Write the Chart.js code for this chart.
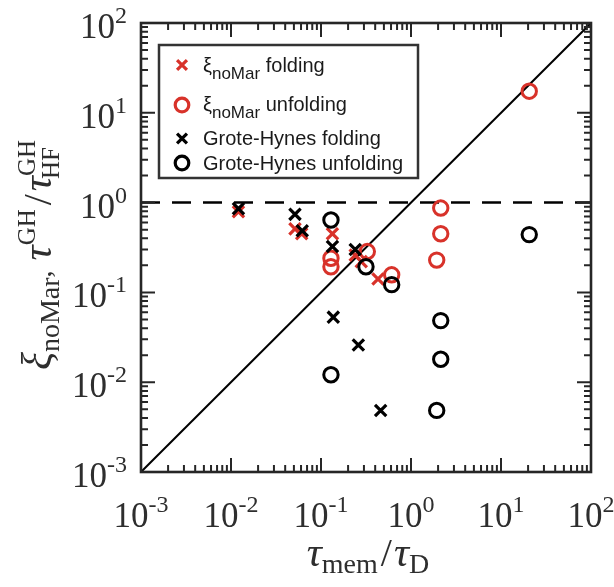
<!DOCTYPE html>
<html>
<head>
<meta charset="utf-8">
<script src="https://cdn.jsdelivr.net/npm/chart.js@4.4.1/dist/chart.umd.min.js"></script>
<style>
  html, body { margin: 0; padding: 0; background: #fff; }
  #wrap { width: 614px; height: 587px; }
</style>
</head>
<body>
<div id="wrap"><canvas id="c" width="614" height="587"></canvas></div>
<script>
// tau_mem / tau_D (x) and the corresponding ratios (y) for each series
const xiFoldX   = [0.0121, 0.0514, 0.061, 0.134, 0.24, 0.28, 0.43];
const xiFoldY   = [0.79, 0.51, 0.45, 0.45, 0.26, 0.22, 0.141];
const xiUnfoldX = [0.129, 0.129, 0.327, 0.61, 2.14, 2.14, 1.93, 20.6];
const xiUnfoldY = [0.24, 0.193, 0.285, 0.157, 0.87, 0.45, 0.229, 17.4];
const ghFoldX   = [0.0121, 0.0514, 0.0619, 0.134, 0.24, 0.137, 0.26, 0.46];
const ghFoldY   = [0.857, 0.74, 0.485, 0.324, 0.30, 0.053, 0.026, 0.00485];
const ghUnfoldX = [0.129, 0.316, 0.61, 0.129, 2.14, 2.14, 1.93, 20.6];
const ghUnfoldY = [0.64, 0.193, 0.122, 0.0121, 0.0485, 0.018, 0.00485, 0.44];

// axis range and decade labels (10^k)
const axisMin = 1e-3, axisMax = 1e2;
const decadeExponents = [-3, -2, -1, 0, 1, 2];
const referenceLevel = 1;

const RED = '#d8322a', INK = '#000000', FRAME = '#262626', LABEL = '#2e2e2e';
const SERIF = '"Liberation Serif", "Times New Roman", serif';
const SANS = '"Liberation Sans", Arial, Helvetica, sans-serif';

const pts = (xs, ys) => xs.map((v, i) => ({ x: v, y: ys[i] }));

function drawRich(ctx, segs, x, y, align) {
  let w = 0;
  const widths = segs.map(s => {
    let m;
    if (s.stack) {
      m = Math.max(...s.stack.map(q => { ctx.font = q.f; return ctx.measureText(q.t).width; }));
    } else {
      ctx.font = s.f;
      m = ctx.measureText(s.t).width;
    }
    w += m + (s.gap || 0);
    return m;
  });
  let cx = align === 'center' ? x - w / 2 : align === 'right' ? x - w : x;
  ctx.textBaseline = 'alphabetic';
  ctx.textAlign = 'left';
  segs.forEach((s, i) => {
    if (s.stack) {
      s.stack.forEach(q => { ctx.font = q.f; ctx.fillText(q.t, cx + (q.dx || 0), y + (q.dy || 0)); });
    } else {
      ctx.font = s.f;
      ctx.fillText(s.t, cx, y + (s.dy || 0));
    }
    cx += widths[i] + (s.gap || 0);
  });
}

function markX(ctx, x, y, r, color, lw) {
  const d = Math.cos(Math.PI / 4) * r;
  ctx.save();
  ctx.strokeStyle = color; ctx.lineWidth = lw;
  ctx.beginPath();
  ctx.moveTo(x - d, y - d); ctx.lineTo(x + d, y + d);
  ctx.moveTo(x + d, y - d); ctx.lineTo(x - d, y + d);
  ctx.stroke();
  ctx.restore();
}
function markO(ctx, x, y, r, color, lw) {
  ctx.save();
  ctx.strokeStyle = color; ctx.lineWidth = lw;
  ctx.beginPath(); ctx.arc(x, y, r, 0, Math.PI * 2); ctx.stroke();
  ctx.restore();
}

const decorations = {
  id: 'decorations',
  afterDatasetsDraw(chart) {
    const { ctx, chartArea: a, scales: { x, y } } = chart;
    ctx.save();

    // inward ticks on all four sides
    ctx.strokeStyle = FRAME;
    ctx.lineWidth = 2;
    ctx.beginPath();
    for (let e = decadeExponents[0]; e < decadeExponents[decadeExponents.length - 1]; e++) {
      for (let m = 1; m < 10; m++) {
        const v = m * Math.pow(10, e);
        const len = m === 1 ? 14 : 7;
        const px = x.getPixelForValue(v), py = y.getPixelForValue(v);
        ctx.moveTo(px, a.bottom); ctx.lineTo(px, a.bottom - len);
        ctx.moveTo(px, a.top); ctx.lineTo(px, a.top + len);
        ctx.moveTo(a.left, py); ctx.lineTo(a.left + len, py);
        ctx.moveTo(a.right, py); ctx.lineTo(a.right - len, py);
      }
    }
    ctx.stroke();

    // frame
    ctx.lineWidth = 2.6;
    ctx.strokeRect(a.left, a.top, a.right - a.left, a.bottom - a.top);

    // decade tick labels
    ctx.fillStyle = LABEL;
    decadeExponents.forEach(k => {
      const v = Math.pow(10, k);
      const segs = [
        { t: '10', f: '35px ' + SERIF },
        { t: String(k), f: '24px ' + SERIF, dy: -15 }
      ];
      drawRich(ctx, segs, x.getPixelForValue(v), 527, 'center');
      drawRich(ctx, segs, 127, y.getPixelForValue(v) + 15, 'right');
    });

    // x-axis title: tau_mem / tau_D
    drawRich(ctx, [
      { t: 'τ', f: 'italic 42px ' + SERIF },
      { t: 'mem', f: '28px ' + SERIF, dy: 7, gap: 3 },
      { t: '/', f: '40px ' + SERIF, gap: 2 },
      { t: 'τ', f: 'italic 42px ' + SERIF },
      { t: 'D', f: '28px ' + SERIF, dy: 7 }
    ], (a.left + a.right) / 2 + 2, 566, 'center');

    // y-axis title: xi_noMar, tau^GH / tau^GH_HF
    ctx.save();
    ctx.translate(51, 255);
    ctx.rotate(-Math.PI / 2);
    drawRich(ctx, [
      { t: 'ξ', f: 'italic 42px ' + SERIF },
      { t: 'noMar', f: '28px ' + SERIF, dy: 8 },
      { t: ',', f: '28px ' + SERIF, gap: 10 },
      { t: 'τ', f: 'italic 42px ' + SERIF },
      { t: 'GH', f: '25px ' + SERIF, dy: -16, gap: 4 },
      { t: '/', f: '40px ' + SERIF, gap: 3 },
      { t: 'τ', f: 'italic 42px ' + SERIF },
      { stack: [
          { t: 'GH', f: '25px ' + SERIF, dy: -16 },
          { t: 'HF', f: '25px ' + SERIF, dy: 8, dx: -3 }
        ] }
    ], 0, 0, 'center');
    ctx.restore();

    // legend
    const L = { x: 159, y: 45, w: 259, h: 133 };
    ctx.fillStyle = '#fff';
    ctx.fillRect(L.x, L.y, L.w, L.h);
    ctx.strokeStyle = '#333';
    ctx.lineWidth = 2.5;
    ctx.strokeRect(L.x, L.y, L.w, L.h);
    const txt = '20px ' + SANS, sub = '17px ' + SANS;
    const entries = [
      { mark: 'x', color: RED, my: 65, by: 72, segs: [{ t: 'ξ', f: txt }, { t: 'noMar', f: sub, dy: 7 }, { t: ' folding', f: txt }] },
      { mark: 'o', color: RED, my: 105, by: 111, segs: [{ t: 'ξ', f: txt }, { t: 'noMar', f: sub, dy: 7 }, { t: ' unfolding', f: txt }] },
      { mark: 'x', color: INK, my: 138.5, by: 145, segs: [{ t: 'Grote-Hynes folding', f: txt }] },
      { mark: 'o', color: INK, my: 163, by: 169.5, segs: [{ t: 'Grote-Hynes unfolding', f: txt }] }
    ];
    entries.forEach(en => {
      if (en.mark === 'x') markX(ctx, 182, en.my, 7, en.color, 3.2);
      else markO(ctx, 182, en.my, 6.8, en.color, 3.2);
      ctx.fillStyle = '#1a1a1a';
      drawRich(ctx, en.segs, 203, en.by, 'left');
    });
    ctx.restore();
  }
};

const logAxis = {
  type: 'logarithmic',
  display: false,
  min: axisMin,
  max: axisMax
};

new Chart(document.getElementById('c'), {
  type: 'scatter',
  data: {
    datasets: [
      { label: 'Grote-Hynes folding', data: pts(ghFoldX, ghFoldY), order: 1,
        pointStyle: 'crossRot', pointRadius: 8, pointHoverRadius: 8, borderColor: INK, borderWidth: 3.2 },
      { label: 'Grote-Hynes unfolding', data: pts(ghUnfoldX, ghUnfoldY), order: 2,
        pointStyle: 'circle', pointRadius: 7.2, pointHoverRadius: 7.2, borderColor: INK, backgroundColor: 'rgba(0,0,0,0)', borderWidth: 3 },
      { label: 'ξ noMar folding', data: pts(xiFoldX, xiFoldY), order: 3,
        pointStyle: 'crossRot', pointRadius: 8, pointHoverRadius: 8, borderColor: RED, borderWidth: 3.2 },
      { label: 'ξ noMar unfolding', data: pts(xiUnfoldX, xiUnfoldY), order: 4,
        pointStyle: 'circle', pointRadius: 7.2, pointHoverRadius: 7.2, borderColor: RED, backgroundColor: 'rgba(0,0,0,0)', borderWidth: 3 },
      { label: 'y = x', data: [{ x: axisMin, y: axisMin }, { x: axisMax, y: axisMax }], order: 5,
        showLine: true, pointRadius: 0, borderColor: INK, borderWidth: 2 },
      { label: 'reference', data: [{ x: axisMin, y: referenceLevel }, { x: axisMax, y: referenceLevel }], order: 6,
        showLine: true, pointRadius: 0, borderColor: INK, borderWidth: 2.5, borderDash: [19, 12] }
    ]
  },
  options: {
    responsive: false,
    animation: false,
    devicePixelRatio: 1,
    layout: { autoPadding: false, padding: { left: 141, right: 23, top: 23, bottom: 115 } },
    scales: { x: logAxis, y: { ...logAxis } },
    plugins: { legend: { display: false }, tooltip: { enabled: false } }
  },
  plugins: [decorations]
});
</script>
</body>
</html>
